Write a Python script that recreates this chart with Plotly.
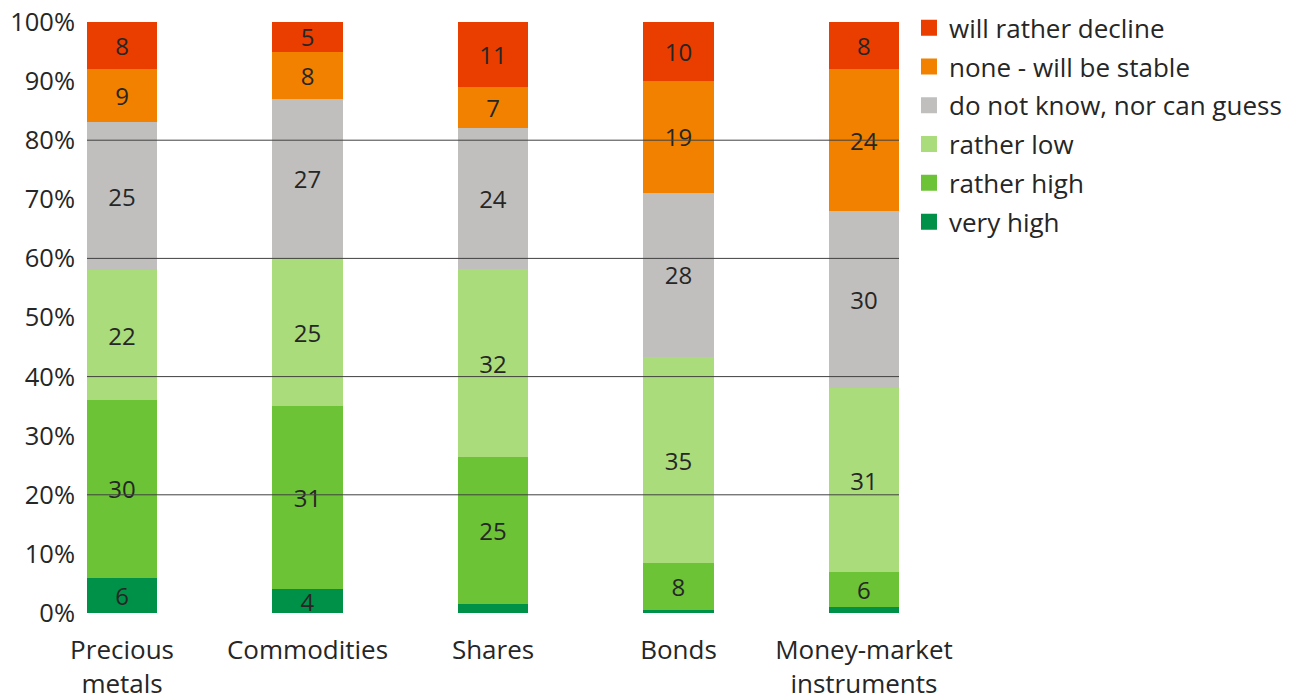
import plotly.graph_objects as go

categories = ["Precious<br>metals", "Commodities", "Shares", "Bonds", "Money-market<br>instruments"]

very_high = [6, 4, 1.5, 0.5, 1]
rather_high = [30, 31, 25, 8, 6]
rather_low = [22, 25, 32, 35, 31]
dont_know = [25, 27, 24, 28, 30]
stable = [9, 8, 7, 19, 24]
decline = [8, 5, 11, 10, 8]

series = [
    ("very high", very_high, "#009148"),
    ("rather high", rather_high, "#6BC335"),
    ("rather low", rather_low, "#AADC7B"),
    ("do not know, nor can guess", dont_know, "#C0BFBD"),
    ("none - will be stable", stable, "#F28100"),
    ("will rather decline", decline, "#EA3D00"),
]

grid_values = [20, 40, 60, 80]
y_ticks = list(range(0, 101, 10))

FONT = "'Open Sans', sans-serif"
TXT = "#262626"

fig = go.Figure()
for name, vals, col in series:
    labels = [f"{v:g}" if v >= 3 else "" for v in vals]
    fig.add_trace(go.Bar(
        x=categories, y=vals, name=name, marker=dict(color=col, line=dict(width=0)),
        text=labels, textposition="inside", insidetextanchor="middle",
        textangle=0, textfont=dict(family=FONT, size=24, color=TXT),
        constraintext="none", showlegend=False, hoverinfo="skip",
    ))

for i, (name, vals, col) in enumerate(reversed(series)):
    fig.add_trace(go.Scatter(
        x=[None], y=[None], mode="markers", name=name, legendgroup=f"g{i}",
        marker=dict(symbol="square", size=16, color=col), showlegend=True,
        hoverinfo="skip",
    ))

bw = 0.378
for g in grid_values:
    fig.add_shape(type="line", xref="x", yref="y", x0=-bw / 2, x1=len(categories) - 1 + bw / 2,
                  y0=g, y1=g, line=dict(color="#404040", width=1), layer="above")

fig.update_layout(
    barmode="stack",
    barnorm="percent",
    bargap=1 - bw,
    width=1292, height=697,
    margin=dict(l=79, r=401, t=14, b=92, pad=0, autoexpand=False),
    paper_bgcolor="white", plot_bgcolor="white",
    font=dict(family=FONT, size=24, color=TXT),
    legend=dict(
        x=1.0123, xanchor="left", y=1.03, yanchor="top",
        traceorder="grouped", tracegroupgap=2,
        font=dict(family=FONT, size=26, color=TXT),
        bgcolor="rgba(0,0,0,0)", itemclick=False, itemdoubleclick=False,
    ),
    showlegend=True,
)
fig.update_xaxes(
    type="category", range=[-bw / 2, len(categories) - 1 + bw / 2],
    showgrid=False, showline=False, zeroline=False, ticks="",
    tickfont=dict(family=FONT, size=26, color=TXT), ticklabelstandoff=19,
    automargin=False, ticklabeloverflow="allow",
)
fig.update_yaxes(
    range=[0, 100], tickvals=y_ticks, ticktext=[f"{t}%" for t in y_ticks],
    showgrid=False, showline=False, zeroline=False, ticks="",
    tickfont=dict(family=FONT, size=25.5, color=TXT), ticklabelstandoff=11,
    automargin=False, ticklabeloverflow="allow",
)

fig.write_html("out.html")
